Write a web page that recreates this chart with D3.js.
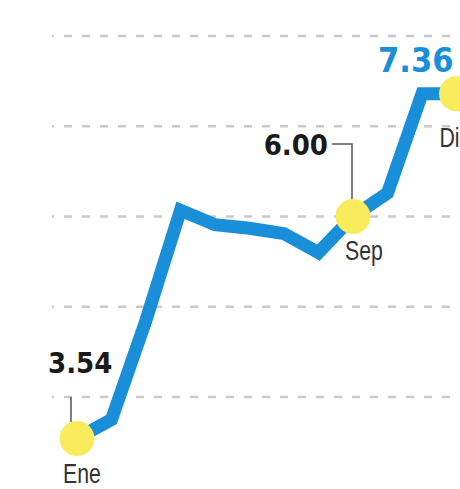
<!DOCTYPE html>
<html>
<head>
<meta charset="utf-8">
<script src="https://cdn.jsdelivr.net/npm/d3@7"></script>
<style>
  body { margin: 0; background: #fff; }
  svg { display: block; }
</style>
</head>
<body>
<div id="chart"></div>
<script>
// Data
const months = ["Ene", "Feb", "Mar", "Abr", "May", "Jun", "Jul", "Ago", "Sep", "Oct", "Nov", "Dic"];
const values = [3.54, 3.75, 4.85, 6.07, 5.91, 5.87, 5.81, 5.60, 6.00, 6.26, 7.36, 7.36];
const gridValues = [4, 5, 6, 7, 8];
const highlighted = ["Ene", "Sep", "Dic"];

// Dimensions
const width = 460;
const height = 489;

const svg = d3.select("#chart")
    .append("svg")
    .attr("width", width)
    .attr("height", height);

// Scales
const xScale = d3.scalePoint().domain(months).range([77, 456.5]);
const yScale = d3.scaleLinear().domain([4, 8]).range([397, 36]);

const blue = "#1a8fd9";
const yellow = "#f8ec5c";
const numFont = "'DejaVu Sans Condensed', 'DejaVu Sans', sans-serif";
const monthFont = "'Liberation Sans', Arial, sans-serif";

// Dashed gridlines
svg.selectAll(".grid")
    .data(gridValues)
    .enter()
    .append("line")
    .attr("class", "grid")
    .attr("x1", 52)
    .attr("x2", width)
    .attr("y1", d => yScale(d))
    .attr("y2", d => yScale(d))
    .attr("stroke", "#c9c9c9")
    .attr("stroke-width", 2.5)
    .attr("stroke-dasharray", "8,10")
    .attr("stroke-dashoffset", 6);

// Line
const data = months.map((m, i) => ({ month: m, value: values[i] }));

svg.append("path")
    .datum(data)
    .attr("fill", "none")
    .attr("stroke", blue)
    .attr("stroke-width", 13)
    .attr("stroke-linejoin", "miter")
    .attr("d", d3.line()
        .x(d => xScale(d.month))
        .y(d => yScale(d.value))
    );

// Leader lines
const sepX = xScale("Sep"), sepY = yScale(values[8]);
const eneX = xScale("Ene"), eneY = yScale(values[0]);
const dicX = xScale("Dic"), dicY = yScale(values[11]);

svg.append("path")
    .attr("fill", "none")
    .attr("stroke", "#555")
    .attr("stroke-width", 1.5)
    .attr("d", `M${sepX - 21},144 H${sepX - 1} V${sepY - 10}`);

svg.append("path")
    .attr("fill", "none")
    .attr("stroke", "#555")
    .attr("stroke-width", 1.5)
    .attr("d", `M${eneX - 6},397 V${eneY - 10}`);

// Highlight circles
svg.selectAll(".dot")
    .data(data.filter(d => highlighted.includes(d.month)))
    .enter()
    .append("circle")
    .attr("class", "dot")
    .attr("cx", d => xScale(d.month))
    .attr("cy", d => yScale(d.value))
    .attr("r", 17.5)
    .attr("fill", yellow);

// Value labels
svg.append("text")
    .attr("x", dicX - 3)
    .attr("y", 72)
    .attr("text-anchor", "end")
    .attr("font-family", numFont)
    .attr("font-weight", "bold")
    .attr("font-size", 34)
    .attr("fill", blue)
    .text(values[11].toFixed(2));

svg.append("text")
    .attr("x", sepX - 25)
    .attr("y", 155)
    .attr("text-anchor", "end")
    .attr("font-family", numFont)
    .attr("font-weight", "bold")
    .attr("font-size", 29)
    .attr("fill", "#1a1a1a")
    .text(values[8].toFixed(2));

svg.append("text")
    .attr("x", eneX - 29)
    .attr("y", 373)
    .attr("text-anchor", "start")
    .attr("font-family", numFont)
    .attr("font-weight", "bold")
    .attr("font-size", 29)
    .attr("fill", "#1a1a1a")
    .text(values[0].toFixed(2));

// Month labels (condensed by horizontal scaling)
const monthLabels = [
    { month: "Ene", dx: -14, y: 483 },
    { month: "Sep", dx: -8, y: 260 },
    { month: "Dic", dx: -17, y: 147 }
];

svg.selectAll(".month-label")
    .data(monthLabels)
    .enter()
    .append("text")
    .attr("class", "month-label")
    .attr("transform", d => `translate(${xScale(d.month) + d.dx},${d.y}) scale(0.76,1)`)
    .attr("font-family", monthFont)
    .attr("font-size", 28)
    .attr("fill", "#333")
    .text(d => d.month);
</script>
</body>
</html>
